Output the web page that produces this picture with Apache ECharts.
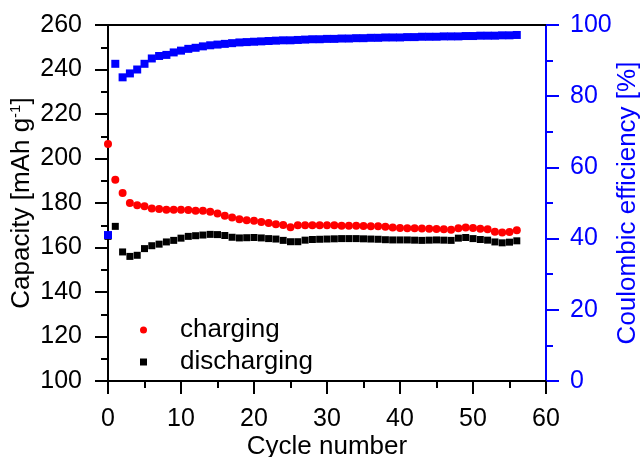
<!DOCTYPE html>
<html>
<head>
<meta charset="utf-8">
<script src="https://cdn.jsdelivr.net/npm/echarts@6/dist/echarts.min.js"></script>
<style>
    html, body { margin: 0; padding: 0; background: #fff; }
    #chart { width: 644px; height: 457px; }
</style>
</head>
<body>
<div id="chart"></div>
<script>
// cycle data
var cycles = [];
for (var i = 0; i <= 56; i++) cycles.push(i);

var charging = [206.5, 190.5, 184.5, 180, 179, 178.5, 177.5, 177.3, 177, 177,
    177, 176.8, 176.5, 176.5, 176.1, 175.3, 174.3, 173.5, 172.7, 172.3,
    172, 171.5, 171, 170.5, 170.1, 169.1, 170, 170, 170, 170,
    170, 170, 169.8, 169.8, 169.8, 169.7, 169.5, 169.5, 169.3, 169,
    168.8, 168.6, 168.6, 168.5, 168.4, 168.3, 168.2, 168, 168.6, 169,
    168.8, 168.4, 168.2, 167.1, 166.7, 167, 167.8];

var discharging = [165, 169.5, 158, 156, 156.5, 159.5, 160.8, 161.5, 162.5, 163.2,
    164.2, 165, 165.3, 165.6, 165.9, 165.8, 165.4, 164.6, 164.3, 164.4,
    164.5, 164.3, 164, 163.8, 163.2, 162.6, 162.6, 163.3, 163.6, 163.7,
    163.8, 163.9, 164, 164, 164, 163.9, 163.8, 163.7, 163.5, 163.4,
    163.4, 163.4, 163.3, 163.2, 163.3, 163.4, 163.3, 163.2, 164.2, 164.5,
    164, 163.6, 163.3, 162.5, 162.1, 162.4, 163];

var efficiency = [41, 89.1, 85.3, 86.4, 87.5, 89.1, 90.6, 91.3, 91.6, 92.3,
    92.8, 93.3, 93.6, 94, 94.3, 94.5, 94.7, 94.9, 95.1, 95.2,
    95.3, 95.4, 95.5, 95.6, 95.7, 95.7, 95.8, 95.9, 96, 96,
    96.1, 96.1, 96.2, 96.2, 96.3, 96.3, 96.4, 96.4, 96.5, 96.5,
    96.5, 96.6, 96.6, 96.7, 96.7, 96.7, 96.8, 96.8, 96.8, 96.9,
    96.9, 97, 97, 97, 97.1, 97.1, 97.2];

function pairs(xs, ys) {
    return ys.map(function(v, i) { return [xs[i], v]; });
}

var font = 'Liberation Sans, Arial, sans-serif';
var chart = echarts.init(document.getElementById('chart'));

option = {
    backgroundColor : '#fff',
    animation : false,
    textStyle : { fontFamily : font },
    grid : { left : 108, right : 98, top : 25, bottom : 76, outerBoundsMode : 'none', containLabel : false },
    legend : {
        orient : 'vertical',
        left : 135,
        top : 312,
        itemWidth : 7,
        itemHeight : 7,
        itemGap : 6,
        textStyle : { fontSize : 26, color : '#000', fontFamily : font, padding : [0, 0, 0, 28] },
        data : [
            { name : 'charging', icon : 'circle' },
            { name : 'discharging', icon : 'rect' }
        ]
    },
    xAxis : [{
        type : 'value',
        min : 0,
        max : 60,
        interval : 10,
        name : 'Cycle number',
        nameLocation : 'middle',
        nameGap : 53,
        nameMoveOverlap : false,
        nameTextStyle : { fontSize : 26, color : '#000', fontFamily : font },
        axisLine : { onZero : false, lineStyle : { color : '#000', width : 2 } },
        axisTick : { inside : false, length : 13, lineStyle : { color : '#000', width : 2 } },
        minorTick : { show : true, splitNumber : 2, length : 7, lineStyle : { color : '#000', width : 2 } },
        axisLabel : { fontSize : 25, color : '#000', margin : 26, fontFamily : font },
        splitLine : { show : false }
    }, {
        type : 'value',
        position : 'top',
        min : 0,
        max : 60,
        axisLine : { show : true, onZero : false, lineStyle : { color : '#000', width : 2 } },
        axisTick : { show : false },
        axisLabel : { show : false },
        splitLine : { show : false }
    }],
    yAxis : [{
        type : 'value',
        min : 100,
        max : 260,
        interval : 20,
        name : '{a|Capacity [mAh g}{s|-1}{a|]}',
        nameLocation : 'middle',
        nameRotate : 90,
        nameGap : 72,
        nameMoveOverlap : false,
        nameTextStyle : {
            rich : {
                a : { fontSize : 26, color : '#000', fontFamily : font, lineHeight : 28 },
                s : { fontSize : 15, color : '#000', fontFamily : font, verticalAlign : 'top', lineHeight : 28 }
            }
        },
        axisLine : { show : true, onZero : false, lineStyle : { color : '#000', width : 2 } },
        axisTick : { inside : false, length : 13, lineStyle : { color : '#000', width : 2 } },
        minorTick : { show : true, splitNumber : 2, length : 7, lineStyle : { color : '#000', width : 2 } },
        axisLabel : { fontSize : 25, color : '#000', margin : 26, fontFamily : font },
        splitLine : { show : false }
    }, {
        type : 'value',
        position : 'right',
        min : 0,
        max : 100,
        interval : 20,
        name : 'Coulombic efficiency [%]',
        nameLocation : 'middle',
        nameRotate : 90,
        nameGap : 69,
        nameMoveOverlap : false,
        nameTextStyle : { fontSize : 26, color : '#0000ff', fontFamily : font },
        axisLine : { show : true, onZero : false, lineStyle : { color : '#0000ff', width : 2 } },
        axisTick : { inside : false, length : 13, lineStyle : { color : '#0000ff', width : 2 } },
        minorTick : { show : true, splitNumber : 2, length : 7, lineStyle : { color : '#0000ff', width : 2 } },
        axisLabel : { fontSize : 25, color : '#0000ff', margin : 24, fontFamily : font },
        splitLine : { show : false }
    }],
    series : [{
        name : 'charging',
        type : 'scatter',
        symbol : 'circle',
        symbolSize : 8,
        itemStyle : { color : '#ff0000', opacity : 1 },
        data : pairs(cycles, charging),
        z : 2
    }, {
        name : 'discharging',
        type : 'scatter',
        symbol : 'rect',
        symbolSize : 7,
        itemStyle : { color : '#000', opacity : 1 },
        data : pairs(cycles, discharging),
        z : 3
    }, {
        name : 'efficiency',
        type : 'scatter',
        symbol : 'rect',
        symbolSize : 8,
        yAxisIndex : 1,
        itemStyle : { color : '#0000ff', opacity : 1 },
        data : pairs(cycles, efficiency),
        z : 4
    }]
};
chart.setOption(option);

window.addEventListener('resize', function() {
    chart.resize()
})
</script>
</body>
</html>
